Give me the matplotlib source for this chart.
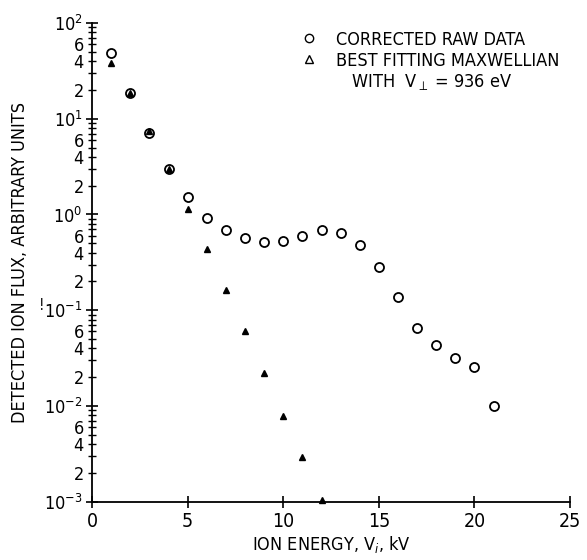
import numpy as np
import matplotlib
matplotlib.use('Agg')
import matplotlib.pyplot as plt
from matplotlib.lines import Line2D
from matplotlib.ticker import LogLocator, FuncFormatter, FixedLocator

plt.rcParams['font.family'] = ['DejaVu Sans']
plt.rcParams['font.stretch'] = 'condensed'

# ion energy (kV) and detected flux
energy_raw = [1, 2, 3, 4, 5, 6, 7, 8, 9, 10, 11, 12, 13, 14, 15, 16, 17, 18, 19, 20, 21]
flux_raw = [48, 18.5, 7.1, 3.0, 1.53, 0.92, 0.69, 0.57, 0.52, 0.53, 0.60, 0.69,
            0.64, 0.48, 0.284, 0.138, 0.0655, 0.0436, 0.0319, 0.0257, 0.0100]

energy_fit = [1, 2, 3, 4, 5, 6, 7, 8, 9, 10, 11, 12]
flux_fit = [38, 18.5, 7.4, 3.0, 1.14, 0.44, 0.163, 0.060, 0.0222, 0.0079, 0.0029, 0.00105]

fig = plt.figure(figsize=(5.87, 5.6), dpi=100)
ax = fig.add_axes([0.157, 0.104, 0.814, 0.855])

ax.plot(energy_fit, flux_fit, linestyle='none', marker='^', color='black',
        markersize=5, clip_on=False)
ax.plot(energy_raw, flux_raw, linestyle='none', marker='o', markerfacecolor='none',
        markeredgecolor='black', markeredgewidth=1.3, markersize=6.5)

ax.set_yscale('log')
ax.set_xlim(0, 25)
ax.set_ylim(1e-3, 1e2)

ax.spines['top'].set_visible(False)
ax.spines['right'].set_visible(False)
ax.spines['left'].set_linewidth(1.3)
ax.spines['bottom'].set_linewidth(1.3)

ax.xaxis.set_major_locator(FixedLocator([0, 5, 10, 15, 20, 25]))
ax.yaxis.set_major_locator(LogLocator(base=10, numticks=10))
ax.yaxis.set_minor_locator(LogLocator(base=10, subs=np.arange(2, 10), numticks=20))


def minor_fmt(v, pos):
    m = v / 10 ** np.floor(np.log10(v) + 1e-9)
    m = int(round(m))
    return str(m) if m in (2, 4, 6) else ''


ax.yaxis.set_minor_formatter(FuncFormatter(minor_fmt))
ax.tick_params(axis='both', which='major', direction='inout', length=8, width=1.2,
               labelsize=14)
ax.tick_params(axis='y', which='major', labelsize=13, pad=3)
ax.tick_params(axis='y', which='minor', direction='inout', length=6, width=1.0,
               labelsize=13, pad=3)

ax.set_xlabel('ION ENERGY, V$_i$, kV', fontsize=13, labelpad=2)
ax.set_ylabel('DETECTED ION FLUX, ARBITRARY UNITS', fontsize=13, labelpad=11)

handles = [
    Line2D([], [], linestyle='none', marker='o', markerfacecolor='none',
           markeredgecolor='black', markersize=6),
    Line2D([], [], linestyle='none', marker='^', markerfacecolor='none',
           markeredgecolor='black', markersize=6),
    Line2D([], [], linestyle='none'),
]
labels = ['CORRECTED RAW DATA', 'BEST FITTING MAXWELLIAN',
          '   WITH  V$_\\perp$ = 936 eV']
ax.legend(handles, labels, loc='upper left', bbox_to_anchor=(0.405, 1.01),
          frameon=False, fontsize=13, handletextpad=0.9, handlelength=1.2,
          labelspacing=0.15, borderpad=0.2)

# stray mark beside the 10^-1 label
fig.text(0.066, 0.447, '!', fontsize=11)

fig.savefig('out.png', dpi=100)
